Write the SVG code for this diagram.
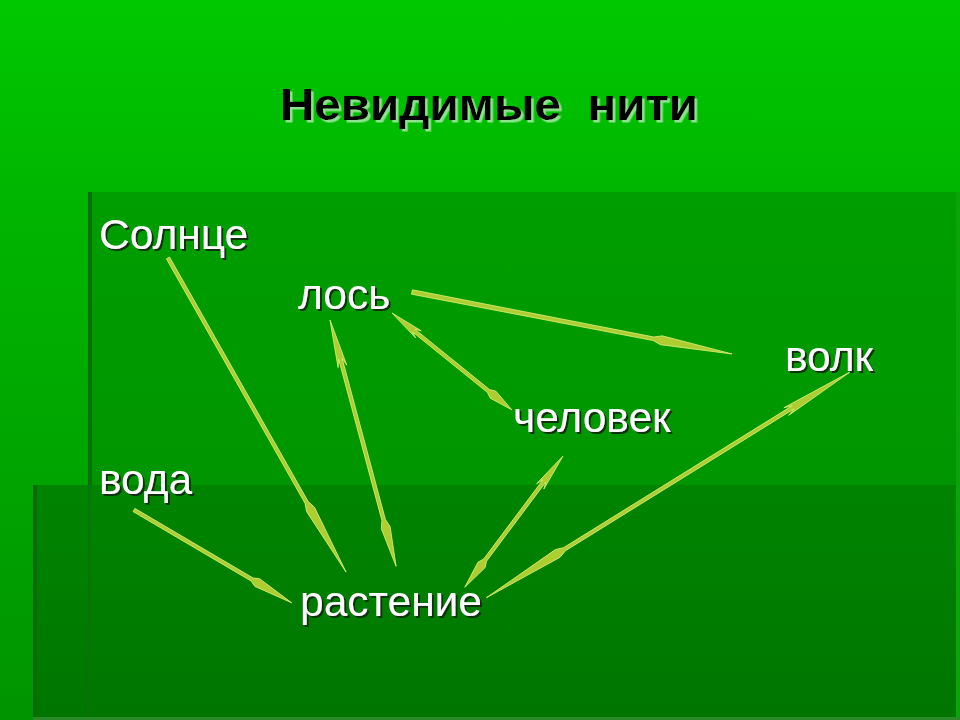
<svg xmlns="http://www.w3.org/2000/svg" width="960" height="720" viewBox="0 0 960 720">
<defs>
<linearGradient id="bg" x1="0" y1="0" x2="0" y2="1">
<stop offset="0" stop-color="#00c800"/>
<stop offset="0.27" stop-color="#00b600"/>
<stop offset="1" stop-color="#009400"/>
</linearGradient>
<linearGradient id="panel" x1="0" y1="0" x2="0" y2="1">
<stop offset="0" stop-color="#009e00"/>
<stop offset="1" stop-color="#008e00"/>
</linearGradient>
<linearGradient id="lower" x1="0" y1="0" x2="0" y2="1">
<stop offset="0" stop-color="#008400"/>
<stop offset="1" stop-color="#007600"/>
</linearGradient>
<filter id="dark" x="-10%" y="-20%" width="130%" height="150%">
<feDropShadow dx="2" dy="2" stdDeviation="0.3" flood-color="#0a300a" flood-opacity="1"/>
</filter>
<filter id="light" x="-10%" y="-20%" width="130%" height="150%">
<feDropShadow dx="2.5" dy="2.5" stdDeviation="0.3" flood-color="#8ee28e" flood-opacity="1"/>
</filter>
<style>
.lbl{font-family:"Liberation Sans",Arial,sans-serif;font-size:42.5px;fill:#ffffff;filter:url(#dark)}
.title{font-family:"Liberation Sans",Arial,sans-serif;font-size:45px;font-weight:bold;fill:#000000;filter:url(#light)}
.arr{fill:#aecd30;stroke:#d6ef72;stroke-width:0.8;stroke-linejoin:miter}
</style>
</defs>
<rect x="0" y="0" width="960" height="720" fill="url(#bg)"/>
<rect x="88" y="192" width="868" height="528" fill="url(#panel)"/>
<rect x="956" y="192" width="4" height="528" fill="#0aa40a"/>
<rect x="88" y="192" width="4" height="528" fill="#0c6e0c"/>
<rect x="33" y="485" width="923" height="235" fill="url(#lower)"/>
<rect x="33" y="485" width="4" height="235" fill="#0c6a0c"/>
<rect x="88" y="485" width="3" height="235" fill="#0b700b" fill-opacity="0.7"/>
<rect x="33" y="717" width="927" height="3" fill="#2a8a2a"/>

<g id="title">
<text class="title" x="280" y="120" xml:space="preserve" textLength="418" lengthAdjust="spacingAndGlyphs">Невидимые  нити</text>
</g>

<g id="connectors">
<path class="arr" transform="translate(168,258) rotate(60.45)" d="M0,-1.8 L281,-1.8 L289,-4.5 L361,0 L289,4.5 L281,1.8 L0,1.8 Z"/>
<path class="arr" transform="translate(330,320) rotate(74.98)" d="M0,0 L48,-4.5 L40,-1.8 L207,-1.8 L215,-4.5 L255,0 L215,4.5 L207,1.8 L40,1.8 L48,4.5 Z"/>
<path class="arr" transform="translate(392,313) rotate(38.95)" d="M0,0 L34,-4.5 L28,-1.8 L124,-1.8 L130,-4.5 L154,0 L130,4.5 L124,1.8 L28,1.8 L34,4.5 Z"/>
<path class="arr" transform="translate(412,292) rotate(10.96)" d="M0,-2.2 L246,-1.8 L254,-4.5 L326,0 L254,4.5 L246,1.8 L0,2.2 Z"/>
<path class="arr" transform="translate(563,456) rotate(126.8)" d="M0,0 L38,-4.5 L31,-1.8 L130,-1.8 L136,-4.5 L164,0 L136,4.5 L130,1.8 L31,1.8 L38,4.5 Z"/>
<path class="arr" transform="translate(850,372) rotate(148.17)" d="M0,0 L75,-4.5 L67,-1.8 L336,-1.8 L344,-4.5 L428,0 L344,4.5 L336,1.8 L67,1.8 L75,4.5 Z"/>
<path class="arr" transform="translate(134,510) rotate(30.48)" d="M0,-1.8 L137,-1.8 L143,-4.5 L183,0 L143,4.5 L137,1.8 L0,1.8 Z"/>
</g>

<g id="node-sun"><text class="lbl" x="99" y="249">Солнце</text></g>
<g id="node-moose"><text class="lbl" x="298" y="309">лось</text></g>
<g id="node-wolf"><text class="lbl" x="785" y="371">волк</text></g>
<g id="node-human"><text class="lbl" x="513" y="432">человек</text></g>
<g id="node-water"><text class="lbl" x="99" y="494">вода</text></g>
<g id="node-plant"><text class="lbl" x="300" y="616">растение</text></g>
</svg>
